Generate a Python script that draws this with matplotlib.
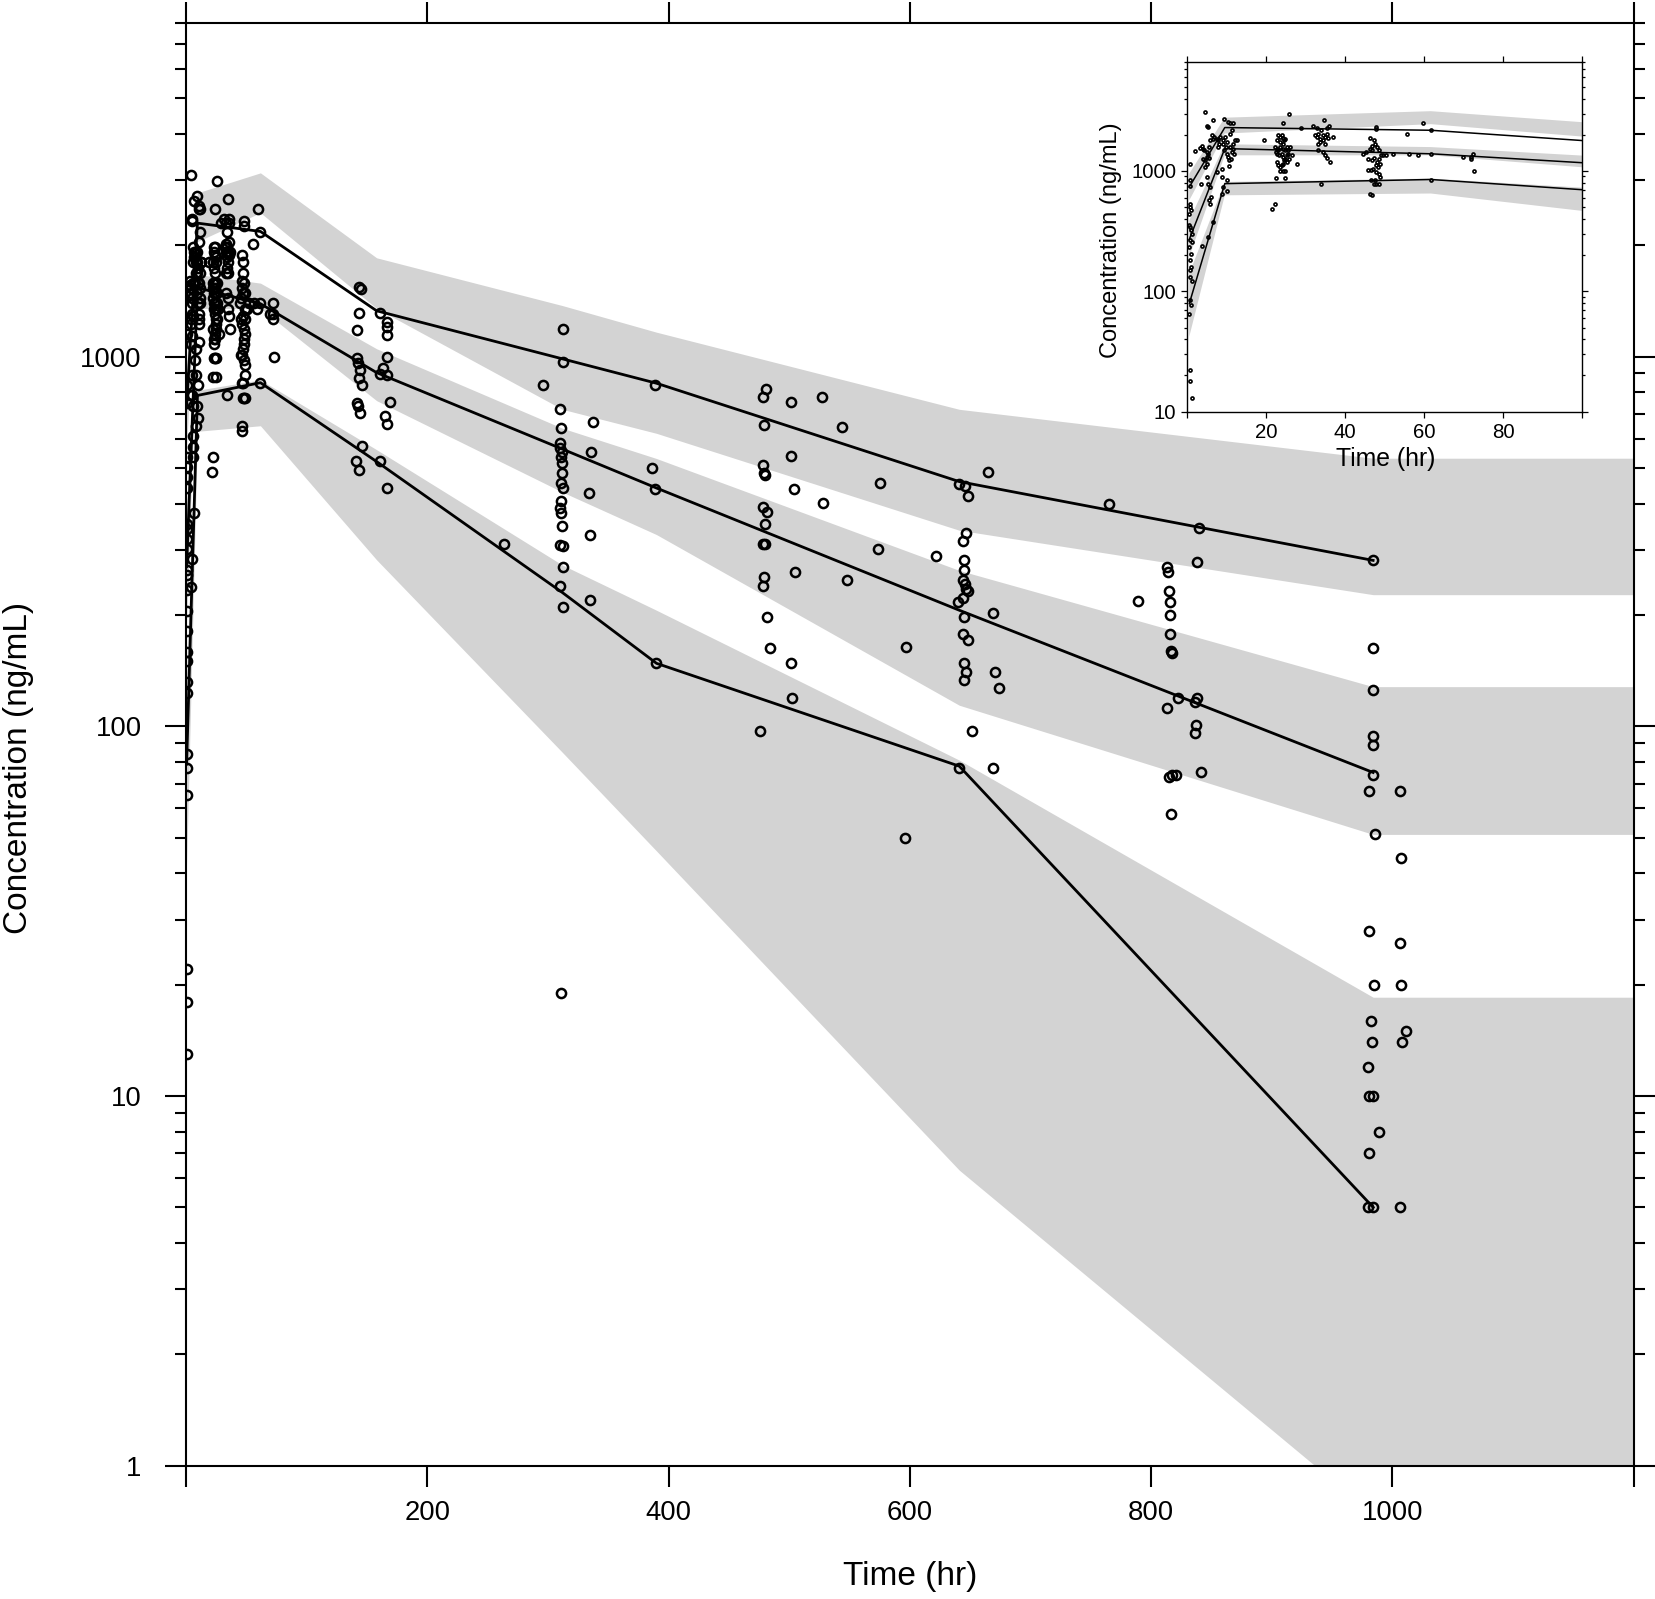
import matplotlib
matplotlib.use("Agg")
import matplotlib.pyplot as plt
from matplotlib.ticker import LogLocator, NullLocator, FixedLocator

plt.rcParams['font.family'] = ['Liberation Sans', 'DejaVu Sans']

# ---------------- data ----------------
bin_time = [0.5, 9.5, 61.7, 158, 312, 390, 641, 984]
obs_p95 = [736, 2296, 2180, 1330, 986, 847, 459, 281]
obs_p50 = [270, 1535, 1390, 905, 562, 441, 206, 75]
obs_p05 = [79, 785, 850, 520, 230, 148, 78, 5]

pi95_lo = [570, 2047, 2450, 1350, 720, 620, 339, 227]
pi95_hi = [950, 2773, 3140, 1850, 1374, 1164, 720, 531]
pi50_lo = [193, 1350, 1350, 760, 430, 330, 114, 51]
pi50_hi = [389, 1667, 1580, 1050, 640, 530, 264, 128]
pi05_lo = [42, 628, 650, 282, 85, 46, 6.3, 0.74]
pi05_hi = [140, 811, 865, 560, 273, 206, 81, 18.5]

x_end = 1200

obs_early = [
    (0.7,1150),(0.7,836),(0.7,750),(0.7,536),(0.7,502),(0.84,471),(0.5,442),(0.5,353),(0.7,342),
    (0.84,322),(1.1,302),(0.7,265),(1.1,257),(0.5,234),(0.84,205),(0.7,181),(0.84,159),(0.7,150),
    (0.7,132),(1.1,123),(0.7,84),(0.84,77),(0.5,65),(0.7,22),(0.7,18),(1.1,13),
    (1.9,1456),(3.2,1563),(3.6,1604),(4.1,1534),(4.2,1485),(3.4,785),(3.8,238),(4.5,3090),
    (4.05,1266),(4.5,1226),(4.9,1307),(4.5,1080),(4.9,1136),(5.3,1393),(5.1,1439),(5.6,1584),
    (5.3,2322),(5.1,2350),(5.7,1800),(5.6,1291),
    (5.1,891),(5.3,785),(5.7,736),(5.9,608),(5.6,570),(5.7,536),(5.3,283),
    (6.6,377),(6.6,2636),(6.2,1977),(6.4,1857),(6.8,1917),
    (7.4,1857),(7.9,1800),(8.3,1917),(8.1,1685),(7.7,1584),
    (7.6,981),(8.7,891),(8.7,1046),
    (9.3,2722),(9.0,1800),(9.1,1685),(9.5,1917),(9.8,1584),(10.0,1740),
    (8.7,649),(9.1,736),(10.1,836),(10.0,682),
    (10.4,2552),(10.8,2506),(11.7,2506),(11.2,2178),(10.8,2042),
    (9.3,1485),(10.0,1393),(10.4,1307),(10.8,1584),(11.2,1439),(11.7,1687),(10.6,1226),(11.0,1266),
    (11.5,1534),(11.8,1393),(12.1,1800),(12.5,1800),(10.6,1094),
    (19.4,1800),(21.4,487),(22.2,536),(24.2,2506),
    (23.1,1977),(23.5,1917),(23.9,1977),(24.3,1883),(24.7,1857),(22.6,1800),(23.5,1740),(24.2,1687),(24.5,1800),
    (22.2,1584),(22.6,1534),(23.1,1485),(23.6,1584),(24.2,1534),(24.7,1485),(25.2,1584),(25.6,1485),(26.0,1584),
    (22.5,1439),(22.8,1393),(23.3,1349),(23.9,1393),(24.3,1307),(24.7,1266),(25.2,1349),(25.6,1393),(25.8,1266),(26.4,1349),
    (22.6,1188),(23.1,1115),(23.5,1080),(24.2,1150),(24.5,1226),(25.2,1188),
    (22.5,880),(23.6,994),(24.3,994),(24.7,994),(24.7,880),(23.9,1115),
    (25.8,2992),(27.7,1150),(28.8,2291),
    (31.9,2350),(32.8,2291),(34.6,2673),(35.3,2291),(35.8,2350),(34.0,2178),(33.2,2017),
    (32.3,1977),(32.8,1917),(33.6,1857),(34.3,1977),(34.9,1917),(35.3,2042),(34.5,1800),(33.6,1740),
    (33.2,1687),(34.9,1687),(35.6,1883),
    (33.2,1485),(34.5,1439),(34.9,1349),(35.3,1291),(36.1,1188),(34.0,785),(36.8,1917),
    (47.8,2322),(47.8,2249),(46.3,1880),(47.3,1800),(47.6,1687),(46.7,1604),
    (44.6,1393),(45.4,1439),(46.3,1534),(46.9,1485),(48.0,1584),(48.6,1485),(49.0,1349),(49.7,1349),(50.3,1349),
    (45.9,1266),(46.7,1226),(47.3,1291),(48.1,1188),(48.6,1266),(48.8,1150),(48.4,1080),(47.8,1115),(47.1,1046),
    (45.9,1013),(46.5,1013),(47.8,981),(48.6,950),(48.8,891),(47.3,774),(47.9,774),(48.6,774),(46.3,649),(46.7,628),
    (46.5,848),(47.5,848),
    (52.0,1393),(55.6,2017),(56.2,1393),(58.5,1349),(61.7,1393),(61.7,2178),(59.8,2506),(61.7,848),
    (69.9,1307),(71.8,1307),(72.3,1393),(72.0,1266),(72.6,1000),
]

obs_late = [
    (143.6,1546),(144.8,1520),(143.6,1315),(141.7,1181),(160.8,1315),(166.4,1244),(166.9,1205),(166.9,1145),
    (166.9,996),(141.5,990),(142.8,960),(144.2,921),(143.6,874),(145.6,838),(160.8,898),(166.4,892),(163.6,930),
    (169.1,755),(141.5,748),(142.8,733),(144.2,703),(165,689),(166.9,658),(145.9,573),(140.9,521),(143.2,494),
    (160.8,521),(166.2,442),
    (295.8,836),(309.8,723),(310.7,642),(312.4,1185),(312.4,966),(309.8,582),(309.8,567),(311.6,553),(310.7,535),
    (311.6,517),(311.6,485),(310.7,454),(312.4,442),(310.7,408),(309.8,390),(310.7,377),(311.6,349),(309.8,310),
    (312.4,308),(312.4,270),(309.8,240),(312.4,210),(310.7,19),(337,664),(336,552),(334,427),(335,329),(335,220),
    (263.4,312),
    (388.6,840),(386,500),(388.6,438),(389.5,148),
    (480.6,818),(478,778),(479,655),(478,510),(479,484),(480,477),(478,393),(482,380),(480,352),(478,312),(480,312),
    (479,253),(478,240),(482,197),(484,163),(476,97),(501.6,752),(501.6,537),(504,438),(505,261),(501.6,148),
    (502.5,119),(526.8,778),(527.7,403),(543.5,646),(548,249),(575,456),(574,302),(621.5,289),(597,164),(596,50),
    (664.4,487),(640.7,453),(646,447),(647.8,419),(646.9,333),(644.2,318),(645,282),(645,265),(644.2,248),(646,243),
    (646.9,235),(644.2,223),(639.8,217),(648.6,232),(645,197),(644.2,178),(647.8,171),(645,148),(646.9,140),(645,133),
    (651.3,97),(640.7,77),(668.6,202),(670.4,140),(674,127),(668.6,77),
    (765,400),(788.7,218),(813,270),(814,262),(815,232),(815.8,217),(815.8,200),(815.8,178),(816.7,160),(817.6,158),
    (813,112),(822,119),(815,73),(817.6,74),(821,74),(816.7,58),(839.5,344),(837.7,278),(837.7,119),(836,116),
    (836.8,101),(836,96),(841,75),
    (984,281),(984,163),(984,125),(984,94),(984,89),(984,74),(981,67),(985.5,51),(981,28),(984.6,20),(982,16),
    (983,14),(980,12),(981,10),(984,10),(989,8),(981,7),(980,5),(984,5),(1006,67),(1007,44),(1006,26),(1007,20),
    (1011,15),(1008,14),(1006,5),
]

obs_time = [p[0] for p in obs_early + obs_late]
obs_conc = [p[1] for p in obs_early + obs_late]

x_ticks = [0, 200, 400, 600, 800, 1000, 1200]
x_ticklabels = ['', '200', '400', '600', '800', '1000', '']
y_ticks = [1, 10, 100, 1000]
y_ticklabels = ['1', '10', '100', '1000']
ins_x_ticks = [0, 20, 40, 60, 80, 100]
ins_x_ticklabels = ['', '20', '40', '60', '80', '']
ins_y_ticks = [10, 100, 1000]
ins_y_ticklabels = ['10', '100', '1000']

GRAY = '#D3D3D3'
W, H = 1656, 1599


def draw(ax, xmax, ms, mew, lw):
    t_ext = bin_time + [xmax]
    for lo, hi in [(pi95_lo, pi95_hi), (pi50_lo, pi50_hi), (pi05_lo, pi05_hi)]:
        ax.fill_between(t_ext, lo + [lo[-1]], hi + [hi[-1]], color=GRAY, lw=0, zorder=1)
    for line in (obs_p95, obs_p50, obs_p05):
        ax.plot(bin_time, line, color='black', lw=lw, zorder=2, clip_on=True)
    ax.plot(obs_time, obs_conc, linestyle='none', marker='o', ms=ms, mew=mew,
            mfc='none', mec='black', zorder=3, clip_on=True)


fig = plt.figure(figsize=(W / 100, H / 100), dpi=100)

# ---------------- main panel ----------------
L, R, T, B = 186, 1633.7, 22.7, 1465.7
ax = fig.add_axes([L / W, 1 - B / H, (R - L) / W, (B - T) / H])
draw(ax, x_end, 6.6, 1.8, 2.0)
ax.set_xlim(0, x_end)
ax.set_yscale('log')
ax.set_ylim(1, 8000)
ax.xaxis.set_major_locator(FixedLocator(x_ticks))
ax.set_xticklabels(x_ticklabels)
ax.xaxis.set_minor_locator(NullLocator())
ax.yaxis.set_major_locator(FixedLocator(y_ticks))
ax.set_yticklabels(y_ticklabels)
ax.yaxis.set_minor_locator(LogLocator(base=10, subs=range(2, 10)))
ax.tick_params(which='both', direction='out', top=True, right=True, width=1.5, labelsize=19.8)
ax.tick_params(which='major', length=15)
ax.tick_params(which='minor', length=7.8)
ax.tick_params(axis='x', pad=10)
ax.tick_params(axis='y', pad=17)
for s in ax.spines.values():
    s.set_linewidth(1.5)
fig.text(910 / W, 1 - 1577 / H, 'Time (hr)', ha='center', va='center', fontsize=24)
fig.text(19 / W, 1 - 768 / H, 'Concentration (ng/mL)', ha='center', va='center',
         rotation=90, fontsize=24)

# ---------------- inset ----------------
iL, iR, iT, iB = 1187.3, 1582, 62.3, 411.7
ai = fig.add_axes([iL / W, 1 - iB / H, (iR - iL) / W, (iB - iT) / H])
ai.set_zorder(5)
ai.set_facecolor('white')
draw(ai, 100, 2.2, 1.2, 1.1)
ai.set_xlim(0, 100)
ai.set_yscale('log')
ai.set_ylim(10, 8000)
ai.xaxis.set_major_locator(FixedLocator(ins_x_ticks))
ai.set_xticklabels(ins_x_ticklabels)
ai.xaxis.set_minor_locator(NullLocator())
ai.yaxis.set_major_locator(FixedLocator(ins_y_ticks))
ai.set_yticklabels(ins_y_ticklabels)
ai.yaxis.set_minor_locator(LogLocator(base=10, subs=range(2, 10)))
ai.tick_params(which='both', direction='out', top=True, right=True, width=0.9, labelsize=14.7)
ai.tick_params(which='major', length=4, pad=4)
ai.tick_params(which='minor', length=2.2)
for s in ai.spines.values():
    s.set_linewidth(1.0)
fig.text(1386 / W, 1 - 459 / H, 'Time (hr)', ha='center', va='center', fontsize=17.8)
fig.text(1111 / W, 1 - 240 / H, 'Concentration (ng/mL)', ha='center', va='center',
         rotation=90, fontsize=17)

fig.savefig('out.png', dpi=100)
